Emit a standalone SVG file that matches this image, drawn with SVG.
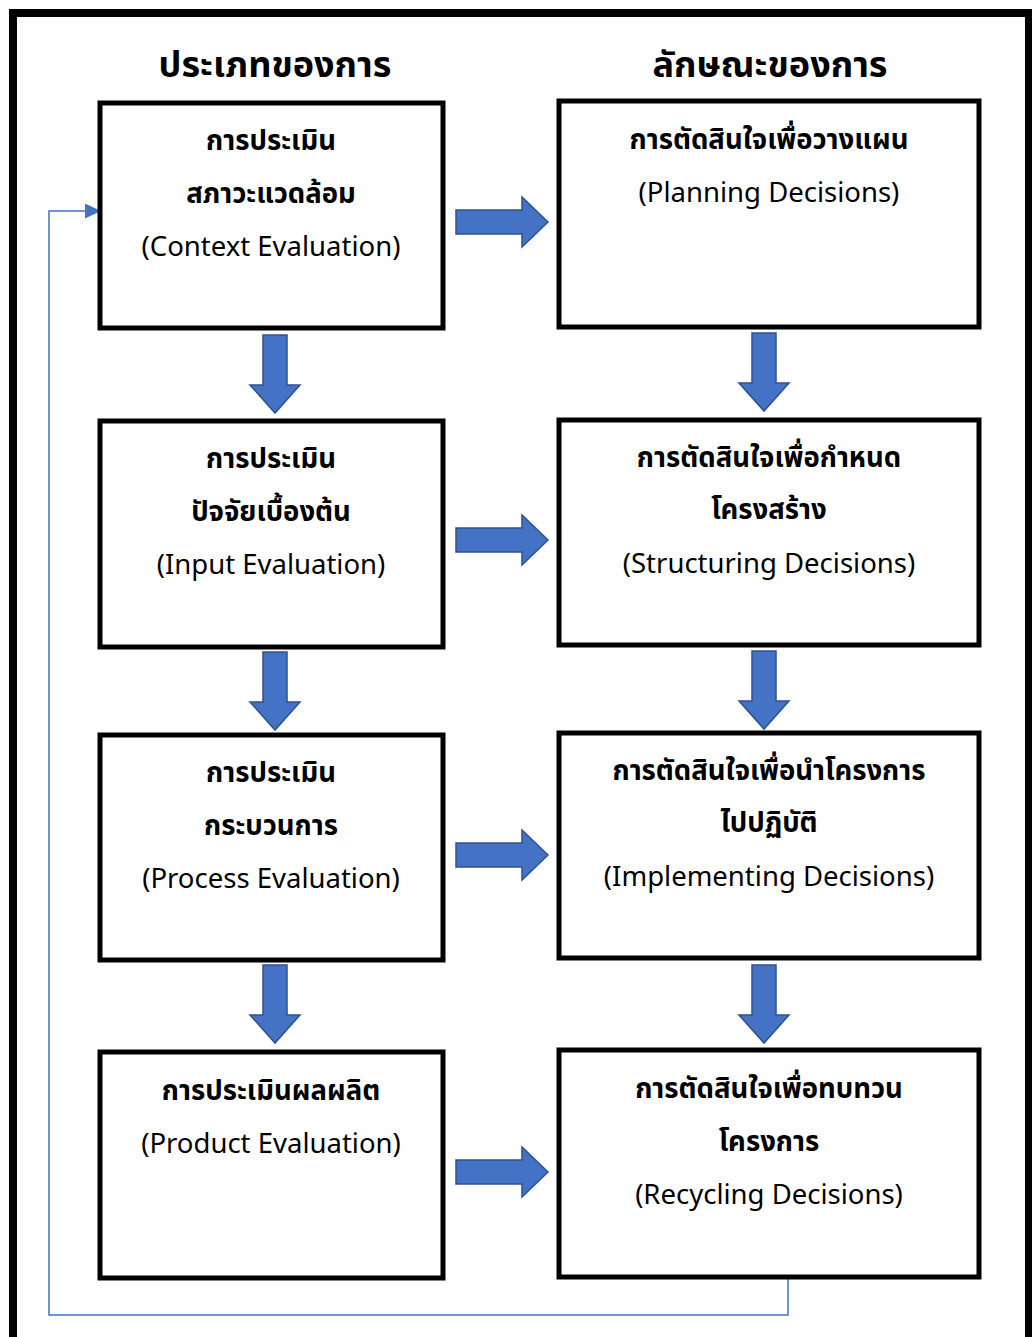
<svg xmlns="http://www.w3.org/2000/svg" width="1032" height="1337" viewBox="0 0 1032 1337">
<defs>
<style>
.box{fill:#fff;stroke:#000;stroke-width:5}
.th{font-family:"Noto Sans","Noto Sans Thai","DejaVu Sans",sans-serif;font-size:27.5px;font-weight:bold;text-anchor:middle;fill:#000}
.en{font-family:"Noto Sans","DejaVu Sans",sans-serif;font-size:27.5px;text-anchor:middle;fill:#000}
.title{font-family:"Noto Sans","Noto Sans Thai",sans-serif;font-size:36px;font-weight:bold;text-anchor:middle;fill:#000}
.arr{fill:#4472C4;stroke:#2F528F;stroke-width:1.5}
.fb{fill:none;stroke:#4472C4;stroke-width:1.5}
</style>
<marker id="ah" markerWidth="16" markerHeight="15" refX="15" refY="7.5" orient="auto" markerUnits="userSpaceOnUse" viewBox="0 0 16 15">
<path d="M0,0 L16,7.5 L0,15 z" fill="#4472C4"/>
</marker>
<path id="down" d="M-12,0 H12 V50 H25 L0,78 L-25,50 H-12 Z"/>
<path id="right" d="M0,-12 H66 V-25 L92,0 L66,25 V12 H0 Z"/>
</defs>
<rect x="0" y="0" width="1032" height="1337" fill="#fff"/>
<path d="M13,1337 V13 H1029 V1337" fill="none" stroke="#000" stroke-width="8"/>
<text class="title" x="275" y="77">ประเภทของการ</text>
<text class="title" x="770" y="77">ลักษณะของการ</text>
<g id="connectors">
<use href="#down" class="arr" x="275" y="335"/>
<use href="#down" class="arr" x="275" y="652"/>
<use href="#down" class="arr" x="275" y="965"/>
<use href="#down" class="arr" x="764" y="333"/>
<use href="#down" class="arr" x="764" y="651"/>
<use href="#down" class="arr" x="764" y="965"/>
<use href="#right" class="arr" x="456" y="222"/>
<use href="#right" class="arr" x="456" y="540"/>
<use href="#right" class="arr" x="456" y="855"/>
<use href="#right" class="arr" x="456" y="1172"/>
<path class="fb" d="M788,1278 V1315 H49 V211 H100" marker-end="url(#ah)"/>
</g>
<g id="L1"><rect class="box" x="100" y="103" width="343" height="225"/>
<text class="th" x="271" y="150">การประเมิน</text><text class="th" x="271" y="203">สภาวะแวดล้อม</text><text class="en" x="271" y="256">(Context Evaluation)</text></g>
<g id="L2"><rect class="box" x="100" y="421" width="343" height="226"/>
<text class="th" x="271" y="468">การประเมิน</text><text class="th" x="271" y="521">ปัจจัยเบื้องต้น</text><text class="en" x="271" y="574">(Input Evaluation)</text></g>
<g id="L3"><rect class="box" x="100" y="735" width="343" height="225"/>
<text class="th" x="271" y="782">การประเมิน</text><text class="th" x="271" y="835">กระบวนการ</text><text class="en" x="271" y="888">(Process Evaluation)</text></g>
<g id="L4"><rect class="box" x="100" y="1052" width="343" height="226"/>
<text class="th" x="271" y="1100">การประเมินผลผลิต</text><text class="en" x="271" y="1153">(Product Evaluation)</text></g>
<g id="R1"><rect class="box" x="559" y="101" width="420" height="226"/>
<text class="th" x="769" y="149">การตัดสินใจเพื่อวางแผน</text><text class="en" x="769" y="202">(Planning Decisions)</text></g>
<g id="R2"><rect class="box" x="559" y="420" width="420" height="225"/>
<text class="th" x="769" y="467">การตัดสินใจเพื่อกำหนด</text><text class="th" x="769" y="519">โครงสร้าง</text><text class="en" x="769" y="573">(Structuring Decisions)</text></g>
<g id="R3"><rect class="box" x="559" y="733" width="420" height="225"/>
<text class="th" x="769" y="780">การตัดสินใจเพื่อนำโครงการ</text><text class="th" x="769" y="832">ไปปฏิบัติ</text><text class="en" x="769" y="886">(Implementing Decisions)</text></g>
<g id="R4"><rect class="box" x="559" y="1050" width="420" height="227"/>
<text class="th" x="769" y="1098">การตัดสินใจเพื่อทบทวน</text><text class="th" x="769" y="1151">โครงการ</text><text class="en" x="769" y="1204">(Recycling Decisions)</text></g>
</svg>
